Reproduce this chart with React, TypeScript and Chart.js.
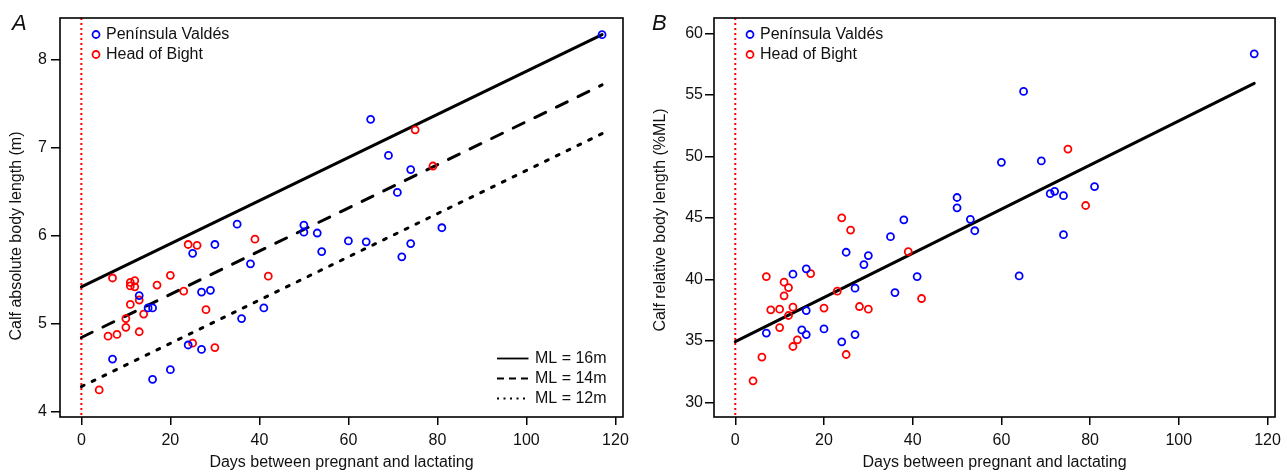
import React, { useEffect, useRef } from 'react';
import { Chart, registerables } from 'chart.js';
Chart.register(...registerables);

const FONT = '"Liberation Sans", Arial, sans-serif';

// ---- Panel A: absolute body length (m)
const pvDaysA = [7, 13, 15, 16, 16, 20, 24, 25, 27, 27, 29, 30, 35, 36, 38, 41, 50, 50, 53, 54, 60, 64, 65, 69, 71, 72, 74, 74, 81, 117];
const pvAbs = [4.60, 5.32, 5.18, 5.18, 4.37, 4.48, 4.76, 5.80, 5.36, 4.71, 5.38, 5.90, 6.13, 5.06, 5.68, 5.18, 6.12, 6.04, 6.03, 5.82, 5.94, 5.93, 7.32, 6.91, 6.49, 5.76, 6.75, 5.91, 6.09, 8.28];
const hbDaysA = [4, 6, 7, 8, 10, 10, 11, 11, 11, 12, 12, 13, 13, 14, 17, 20, 23, 24, 25, 26, 28, 30, 39, 42, 75, 79];
const hbAbs = [4.25, 4.86, 5.52, 4.88, 5.06, 4.96, 5.47, 5.43, 5.22, 5.49, 5.42, 5.27, 4.91, 5.11, 5.44, 5.55, 5.37, 5.90, 4.78, 5.89, 5.16, 4.73, 5.96, 5.54, 7.20, 6.79];

// ---- Panel B: relative body length (%ML)
const pvDaysB = [7, 13, 15, 16, 16, 16, 20, 24, 25, 27, 27, 29, 30, 35, 36, 38, 41, 50, 50, 53, 54, 60, 64, 65, 69, 71, 72, 74, 74, 81, 117];
const pvRel = [35.63, 40.42, 35.89, 40.85, 37.46, 35.51, 35.97, 34.92, 42.2, 39.28, 35.51, 41.2, 41.93, 43.47, 38.92, 44.84, 40.22, 46.65, 45.81, 44.88, 43.95, 49.51, 40.28, 55.27, 49.62, 46.96, 47.15, 46.80, 43.63, 47.54, 58.33];
const hbDaysB = [4, 6, 7, 8, 10, 10, 11, 11, 12, 12, 13, 13, 14, 17, 20, 23, 24, 25, 26, 28, 30, 39, 42, 75, 79];
const hbRel = [31.75, 33.68, 40.22, 37.52, 37.57, 36.08, 39.77, 38.66, 39.33, 37.06, 37.74, 34.54, 35.08, 40.47, 37.66, 39.04, 45.0, 33.89, 44.0, 37.79, 37.57, 42.25, 38.44, 50.59, 46.0];

// ---- fitted lines (endpoints)
const fitDays = [0, 117];
const fitML16 = [5.42, 8.28];
const fitML14 = [4.845, 7.71];
const fitML12 = [4.288, 7.157];
const fitRel = [34.94, 55.93];

// ---- axes
const xTicks = [0, 20, 40, 60, 80, 100, 120];
const yTicksAbs = [4, 5, 6, 7, 8];
const yTicksRel = [30, 35, 40, 45, 50, 55, 60];
const xRange = [-4.8, 121.7];
const yRangeAbs = [3.943, 8.469];
const yRangeRel = [28.81, 61.24];

const seriesNames = ['Península Valdés', 'Head of Bight'];
const lineNames = ['ML = 16m', 'ML = 14m', 'ML = 12m'];

const BLUE = '#0000ff';
const RED = '#ff0000';
const TXT = '#111';

const pts = (xs: number[], ys: number[]) => xs.map((x, i) => ({ x, y: ys[i] }));

function pointSet(label: string, data: any[], color: string) {
  return {
    type: 'scatter',
    label,
    data,
    showLine: false,
    pointStyle: 'circle',
    pointRadius: 3.5,
    pointBorderWidth: 1.8,
    pointBackgroundColor: 'rgba(0,0,0,0)',
    pointBorderColor: color,
    borderColor: color,
    backgroundColor: 'rgba(0,0,0,0)',
    order: 0,
  };
}

function lineSet(label: string, ys: number[], dash: number[]) {
  return {
    type: 'line',
    label,
    data: pts(fitDays, ys),
    showLine: true,
    borderColor: '#000',
    borderWidth: 3,
    borderDash: dash,
    borderCapStyle: 'round',
    pointRadius: 0,
    fill: false,
    tension: 0,
    order: 1,
  };
}

interface PanelCfg {
  letter: string;
  datasets: any[];
  yRange: number[];
  yTicks: number[];
  yTitle: string;
  yTitleX: number;
  yTitleY: number;
  yAxisWidth: number;
  yTickPad: number;
  padRight: number;
  legendX: number;
  lineLegend: boolean;
}

function makeChart(canvas: HTMLCanvasElement, cfg: PanelCfg) {
  const decor = {
    id: 'decor',
    beforeDatasetsDraw(chart: any) {
      const { ctx, chartArea } = chart;
      const x0 = chart.scales.x.getPixelForValue(0);
      ctx.save();
      ctx.strokeStyle = RED;
      ctx.lineWidth = 2;
      ctx.setLineDash([2, 3]);
      ctx.beginPath();
      ctx.moveTo(x0, chartArea.top);
      ctx.lineTo(x0, chartArea.bottom);
      ctx.stroke();
      ctx.restore();
    },
    afterDraw(chart: any) {
      const { ctx, chartArea } = chart;
      ctx.save();
      // box
      ctx.strokeStyle = '#000';
      ctx.lineWidth = 1.6;
      ctx.setLineDash([]);
      ctx.strokeRect(chartArea.left, chartArea.top, chartArea.right - chartArea.left, chartArea.bottom - chartArea.top);
      // panel letter
      ctx.fillStyle = TXT;
      ctx.font = `italic 22px ${FONT}`;
      ctx.textBaseline = 'alphabetic';
      ctx.textAlign = 'left';
      ctx.fillText(cfg.letter, 12, 30);
      // y-axis title
      ctx.save();
      ctx.translate(cfg.yTitleX, cfg.yTitleY);
      ctx.rotate(-Math.PI / 2);
      ctx.font = `16px ${FONT}`;
      ctx.textAlign = 'center';
      ctx.textBaseline = 'middle';
      ctx.fillText(cfg.yTitle, 0, 0);
      ctx.restore();
      // points legend
      ctx.font = `16px ${FONT}`;
      ctx.textBaseline = 'middle';
      ctx.textAlign = 'left';
      const colors = [BLUE, RED];
      seriesNames.forEach((name, i) => {
        const y = 34.5 + i * 20;
        ctx.beginPath();
        ctx.strokeStyle = colors[i];
        ctx.lineWidth = 1.8;
        ctx.arc(cfg.legendX, y, 3.5, 0, Math.PI * 2);
        ctx.stroke();
        ctx.fillStyle = TXT;
        ctx.fillText(name, cfg.legendX + 10, y + 0.5);
      });
      if (cfg.lineLegend) {
        const dashes = [[], [7, 5], [2, 4.5]];
        lineNames.forEach((name, i) => {
          const y = 358.5 + i * 20;
          ctx.beginPath();
          ctx.strokeStyle = '#000';
          ctx.lineWidth = 1.8;
          ctx.setLineDash(dashes[i]);
          ctx.moveTo(497, y);
          ctx.lineTo(528.5, y);
          ctx.stroke();
          ctx.setLineDash([]);
          ctx.fillStyle = TXT;
          ctx.fillText(name, 535, y + 0.5);
        });
      }
      ctx.restore();
    },
  };

  const tickFont = { family: FONT, size: 16 };
  return new Chart(canvas, {
    type: 'scatter',
    data: { datasets: cfg.datasets },
    plugins: [decor],
    options: {
      animation: false,
      responsive: false,
      devicePixelRatio: 1,
      events: [],
      layout: { padding: { top: 18, right: cfg.padRight, left: 0, bottom: 0 } },
      plugins: { legend: { display: false }, tooltip: { enabled: false }, title: { display: false } },
      scales: {
        x: {
          type: 'linear',
          min: xRange[0],
          max: xRange[1],
          afterBuildTicks: (s: any) => { s.ticks = xTicks.map((v) => ({ value: v })); },
          afterFit: (s: any) => { s.height = 55; },
          ticks: { font: tickFont, color: TXT, padding: 6, maxRotation: 0, autoSkip: false },
          grid: { drawOnChartArea: false, drawTicks: true, tickLength: 8, color: '#000', lineWidth: 1.5 },
          border: { display: false },
          title: { display: true, text: 'Days between pregnant and lactating', font: tickFont, color: TXT, padding: { top: 0, bottom: 0 } },
        },
        y: {
          type: 'linear',
          min: cfg.yRange[0],
          max: cfg.yRange[1],
          afterBuildTicks: (s: any) => { s.ticks = cfg.yTicks.map((v) => ({ value: v })); },
          afterFit: (s: any) => { s.width = cfg.yAxisWidth; },
          ticks: { font: tickFont, color: TXT, padding: cfg.yTickPad, autoSkip: false },
          grid: { drawOnChartArea: false, drawTicks: true, tickLength: 9, color: '#000', lineWidth: 1.5 },
          border: { display: false },
          title: { display: false },
        },
      },
    } as any,
  } as any);
}

export default function App() {
  const refA = useRef<HTMLCanvasElement>(null);
  const refB = useRef<HTMLCanvasElement>(null);

  useEffect(() => {
    const a = makeChart(refA.current!, {
      letter: 'A',
      datasets: [
        pointSet(seriesNames[0], pts(pvDaysA, pvAbs), BLUE),
        pointSet(seriesNames[1], pts(hbDaysA, hbAbs), RED),
        lineSet(lineNames[0], fitML16, []),
        lineSet(lineNames[1], fitML14, [12, 12]),
        lineSet(lineNames[2], fitML12, [3, 9]),
      ],
      yRange: yRangeAbs,
      yTicks: yTicksAbs,
      yTitle: 'Calf absolute body length (m)',
      yTitleX: 17,
      yTitleY: 236,
      yAxisWidth: 60,
      yTickPad: 4,
      padRight: 17,
      legendX: 96,
      lineLegend: true,
    });
    const b = makeChart(refB.current!, {
      letter: 'B',
      datasets: [
        pointSet(seriesNames[0], pts(pvDaysB, pvRel), BLUE),
        pointSet(seriesNames[1], pts(hbDaysB, hbRel), RED),
        lineSet('fit', fitRel, []),
      ],
      yRange: yRangeRel,
      yTicks: yTicksRel,
      yTitle: 'Calf relative body length (%ML)',
      yTitleX: 21,
      yTitleY: 220,
      yAxisWidth: 74,
      yTickPad: 2,
      padRight: 10.3,
      legendX: 110,
      lineLegend: false,
    });
    return () => { a.destroy(); b.destroy(); };
  }, []);

  return (
    <div style={{ position: 'absolute', left: 0, top: 0, width: 1287, height: 472, background: '#fff' }}>
      <canvas ref={refA} width={640} height={472} style={{ position: 'absolute', left: 0, top: 0, width: 640, height: 472 }} />
      <canvas ref={refB} width={647} height={472} style={{ position: 'absolute', left: 640, top: 0, width: 647, height: 472 }} />
    </div>
  );
}
